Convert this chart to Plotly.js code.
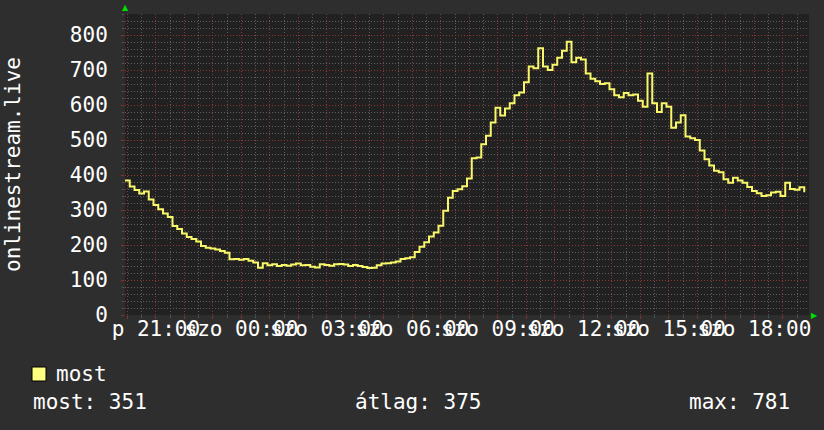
<!DOCTYPE html>
<html>
<head>
<meta charset="utf-8">
<script src="https://cdn.plot.ly/plotly-3.0.1.min.js"></script>
<style>
  html, body { margin: 0; padding: 0; background: #2e2e2e; }
  #chart { width: 824px; height: 430px; }
</style>
</head>
<body>
<div id="chart"></div>
<script>
// ---- data ----
const seriesName = 'most';
const yAxisTitle = 'onlinestream.live';
const startTime = [2024, 2, 1, 19, 55];   // Fri 19:55 (year, month0, day, h, m)
const stepMinutes = 10;
const values = [
  384, 367, 357, 347, 353, 330, 314, 302, 290, 280,
  254, 246, 233, 223, 217, 210, 197, 192, 190, 187,
  183, 178, 159, 160, 158, 160, 155, 150, 135, 148,
  142, 145, 140, 143, 141, 144, 147, 142, 143, 138,
  136, 145, 143, 141, 145, 146, 144, 140, 143, 140,
  137, 134, 135, 142, 147, 148, 150, 153, 160, 162,
  165, 180, 195, 208, 224, 236, 255, 298, 335, 354,
  359, 368, 390, 448, 450, 488, 512, 550, 592, 570,
  590, 605, 628, 636, 665, 710, 705, 762, 710, 700,
  715, 735, 755, 781, 722, 735, 730, 690, 675, 668,
  660, 662, 645, 628, 622, 634, 628, 630, 612, 595,
  690, 605, 580, 605, 595, 535, 550, 571, 510, 505,
  500, 470, 445, 427, 412, 408, 388, 378, 392, 384,
  378, 366, 354, 348, 340, 342, 350, 352, 340, 378,
  360, 358, 365, 351
];
const tickTimes = [
  '2024-03-01 21:00', '2024-03-02 00:00', '2024-03-02 03:00', '2024-03-02 06:00',
  '2024-03-02 09:00', '2024-03-02 12:00', '2024-03-02 15:00', '2024-03-02 18:00'
];
const tickLabels = ['p 21:00', 'szo 00:00', 'szo 03:00', 'szo 06:00',
                    'szo 09:00', 'szo 12:00', 'szo 15:00', 'szo 18:00'];
const statLabels = ['most: 351', 'átlag: 375', 'max: 781'];
const xRange = ['2024-03-01 19:55', '2024-03-02 19:55'];
const yRange = [0, 860];

// ---- helpers ----
function pad(n) { return (n < 10 ? '0' : '') + n; }
function fmt(ms) {
  const d = new Date(ms);
  return d.getUTCFullYear() + '-' + pad(d.getUTCMonth() + 1) + '-' + pad(d.getUTCDate()) +
         ' ' + pad(d.getUTCHours()) + ':' + pad(d.getUTCMinutes());
}
const t0 = Date.UTC(startTime[0], startTime[1], startTime[2], startTime[3], startTime[4]);
const times = values.map((v, i) => fmt(t0 + i * stepMinutes * 60000));

// hourly major grid, labels only every 3 hours
const labelMap = {};
tickTimes.forEach((t, i) => { labelMap[t] = tickLabels[i]; });
const hourVals = [], hourText = [];
const h0 = Date.UTC(2024, 2, 1, 20, 0);
for (let k = 0; k < 24; k++) {
  const s = fmt(h0 + k * 3600000);
  hourVals.push(s);
  hourText.push(labelMap[s] || '');
}

// ---- geometry helpers (pixel -> paper) ----
const L = 125, R = 809, T = 14, B = 315;
const px = x => (x - L) / (R - L);
const py = y => (B - y) / (B - T);

const FONT = 'DejaVu Sans Mono';
const textColor = '#ffffff';
const majorGrid = '#8c3636';
const minorGrid = '#5e5e5e';
const gridDash = '1px,2px';

const trace = {
  type: 'scatter',
  mode: 'lines',
  x: times,
  y: values,
  name: seriesName,
  line: { color: '#f8f86a', width: 2, shape: 'hv' },
  showlegend: false,
  hoverinfo: 'x+y'
};

const layout = {
  width: 824,
  height: 430,
  margin: { l: L, r: 824 - R, t: T, b: 430 - B },
  paper_bgcolor: '#2e2e2e',
  plot_bgcolor: '#212121',
  font: { family: FONT, size: 21, color: textColor },
  showlegend: false,
  xaxis: {
    type: 'date',
    range: xRange,
    tickmode: 'array',
    tickvals: hourVals,
    ticktext: hourText,
    tickangle: 0,
    showgrid: true,
    gridcolor: majorGrid,
    griddash: gridDash,
    gridwidth: 1,
    ticks: 'outside',
    ticklen: 3,
    tickcolor: '#8a3030',
    tickfont: { family: FONT, size: 21, color: textColor },
    ticklabelstandoff: -8,
    zeroline: false,
    showline: false,
    minor: {
      dtick: 30 * 60000,
      tick0: '2024-03-01 20:00',
      showgrid: true,
      gridcolor: minorGrid,
      griddash: gridDash,
      gridwidth: 1,
      ticks: 'outside',
      ticklen: 2,
      tickcolor: '#555555'
    },
    fixedrange: true
  },
  yaxis: {
    range: yRange,
    tickmode: 'linear',
    tick0: 0,
    dtick: 100,
    showgrid: true,
    gridcolor: majorGrid,
    griddash: gridDash,
    gridwidth: 1,
    ticks: 'outside',
    ticklen: 3,
    tickcolor: '#8a3030',
    tickfont: { family: FONT, size: 21, color: textColor },
    ticklabelstandoff: 9,
    zeroline: false,
    showline: false,
    minor: {
      dtick: 20,
      showgrid: true,
      gridcolor: minorGrid,
      griddash: gridDash,
      gridwidth: 1,
      ticks: 'outside',
      ticklen: 2,
      tickcolor: '#555555'
    },
    fixedrange: true
  },
  shapes: [
    { type: 'rect', xref: 'paper', yref: 'paper',
      x0: px(32), x1: px(46), y0: py(381), y1: py(367),
      fillcolor: '#ffff80', line: { color: '#000000', width: 1 } }
  ],
  annotations: [
    { text: yAxisTitle, xref: 'paper', yref: 'paper', x: px(13), y: py(165),
      textangle: -90, showarrow: false, xanchor: 'center', yanchor: 'middle',
      font: { family: FONT, size: 21, color: textColor } },
    { text: seriesName, xref: 'paper', yref: 'paper', x: px(54), y: py(374),
      showarrow: false, xanchor: 'left', yanchor: 'middle',
      font: { family: FONT, size: 21, color: textColor } },
    { text: statLabels[0], xref: 'paper', yref: 'paper', x: px(31), y: py(402),
      showarrow: false, xanchor: 'left', yanchor: 'middle',
      font: { family: FONT, size: 21, color: textColor } },
    { text: statLabels[1], xref: 'paper', yref: 'paper', x: px(353), y: py(402),
      showarrow: false, xanchor: 'left', yanchor: 'middle',
      font: { family: FONT, size: 21, color: textColor } },
    { text: statLabels[2], xref: 'paper', yref: 'paper', x: px(687), y: py(402),
      showarrow: false, xanchor: 'left', yanchor: 'middle',
      font: { family: FONT, size: 21, color: textColor } },
    { text: '▲', xref: 'paper', yref: 'paper', x: 0, y: 1, xanchor: 'center', yanchor: 'bottom',
      showarrow: false, font: { family: 'DejaVu Sans', size: 8, color: '#00dd00' } },
    { text: '▶', xref: 'paper', yref: 'paper', x: 1, y: 0, xanchor: 'left', yanchor: 'middle',
      showarrow: false, font: { family: 'DejaVu Sans', size: 8, color: '#00dd00' } }
  ]
};

Plotly.newPlot('chart', [trace], layout, { staticPlot: true, displayModeBar: false });
</script>
</body>
</html>
